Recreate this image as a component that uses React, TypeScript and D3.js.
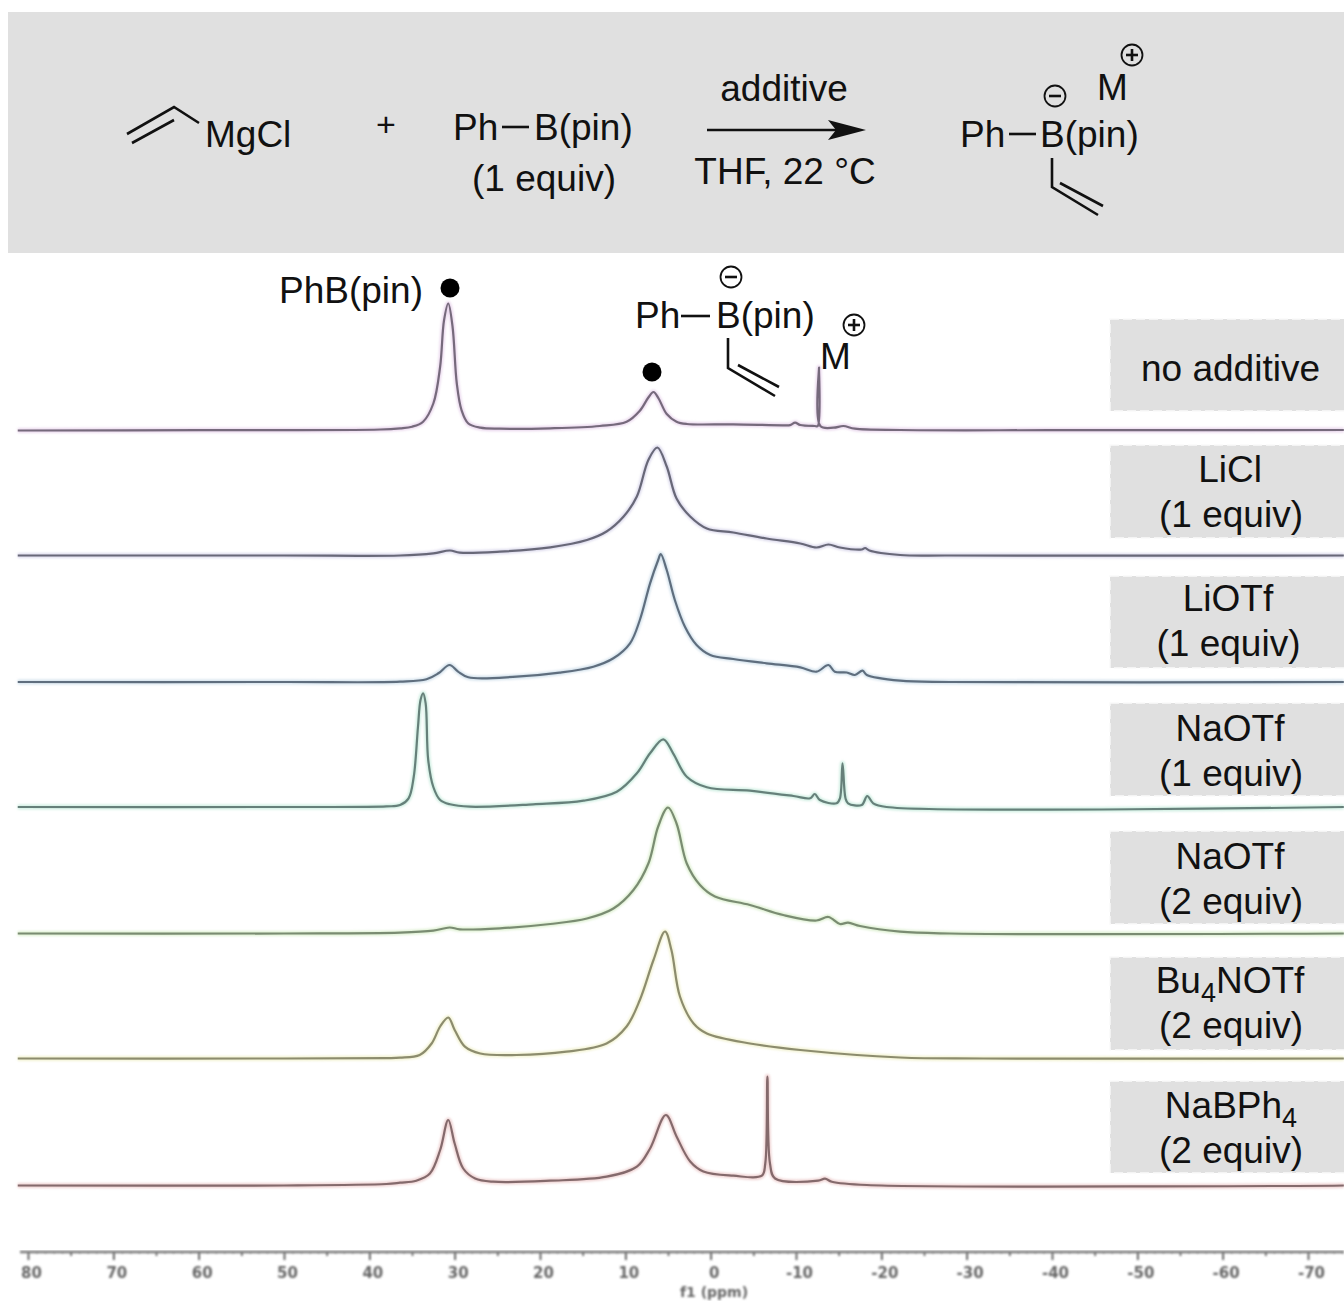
import { useEffect, useRef } from 'react';
import * as d3 from 'd3';

type Pt = [number, number];

// [ppm, intensity]
const noAdditive: Pt[] = [[81.2, 0], [60, 0.3], [38.7, 1], [36.4, 2.2], [35, 3.8], [33.7, 8.8], [32.5, 27], [31.7, 64], [31.25, 110], [30.75, 127], [30.25, 104], [29.75, 47], [29.2, 20.5], [28.4, 7], [27, 2.8], [24.7, 1.8], [18.8, 2.2], [13, 4.5], [9.85, 8.8], [8.3, 19.8], [7.3, 33], [6.7, 38.5], [6.1, 32], [5.15, 16.5], [4, 8.8], [2.8, 6.5], [-2.65, 6.2], [-8.5, 5.2], [-9.3, 5.4], [-9.9, 7.8], [-10.5, 5.5], [-12.2, 4.5], [-12.55, 4.5], [-12.7, 63], [-12.85, 4.5], [-14.4, 2.8], [-15.55, 4.5], [-16.9, 1.8], [-22.2, 0.5], [-40, 0.3], [-74.2, 0.5]];
const liCl: Pt[] = [[81.2, 0], [50, 0], [36.4, 0], [32.5, 2.2], [30.55, 5], [29.4, 2.8], [24.7, 3.8], [18.8, 8.2], [14.5, 15.5], [12.2, 24], [10.2, 39], [8.65, 59], [7.3, 95.5], [6.25, 108], [5.15, 89], [4, 57], [2.4, 39], [0.45, 27], [-2.65, 23], [-6.55, 17], [-10.5, 12], [-12.4, 8], [-13.8, 11], [-15.15, 8], [-17.7, 6], [-18.1, 7.5], [-18.6, 5], [-22.2, 0.5], [-28, 0], [-74.2, 0]];
const liOTf: Pt[] = [[81.2, 0], [50, 0], [36.4, 0.3], [33.3, 2.7], [31.9, 8.7], [30.6, 17], [29.6, 10.3], [28.4, 4.7], [22.75, 5.3], [17.7, 9.3], [13.75, 15.3], [11.4, 23.7], [9.45, 38.7], [8.3, 62], [7.1, 98.7], [6.15, 122], [5.85, 128], [5.15, 112], [4.2, 82], [3, 55], [1.65, 37], [0.05, 27], [-2.65, 23], [-6.55, 18.7], [-10.5, 14.7], [-12.4, 10.3], [-13.8, 17], [-14.55, 10.3], [-15.95, 9.5], [-16.9, 7], [-17.8, 11.3], [-18.3, 7], [-22.2, 1.3], [-28, 0], [-74.2, 0]];
const naOTf1: Pt[] = [[81.2, 0], [50, 0], [38, 0.6], [36.4, 2], [35.4, 8.7], [34.8, 30], [34.3, 80], [34, 107], [33.7, 113.7], [33.4, 103.7], [33.1, 47], [32.5, 20], [31.7, 7], [30.55, 2.7], [28.2, 0.3], [20.8, 2.7], [14.9, 6.3], [11, 15.3], [8.65, 33.7], [7.1, 53.7], [5.55, 67.7], [4.4, 53.7], [2.8, 30.3], [0.45, 19.7], [-4.6, 16.3], [-9.7, 11], [-11.65, 8.7], [-12.2, 13], [-12.8, 7], [-14.75, 3.7], [-15.15, 8.7], [-15.45, 43.7], [-15.8, 8.7], [-16.1, 3.7], [-17.7, 2], [-18.35, 11], [-19.05, 3.7], [-20.6, 0], [-74.2, 0]];
const naOTf2: Pt[] = [[81.2, 0], [50, 0], [36.4, 0.8], [32.5, 2.8], [30.6, 6], [29.4, 4.2], [24.7, 5.2], [18.8, 9.5], [14.5, 15], [11.4, 25], [9.05, 43.5], [7.3, 70], [6.15, 107], [5, 126], [4, 110], [2.8, 70], [1.25, 48.5], [-0.5, 37], [-4.6, 28.5], [-8.5, 18.5], [-12.4, 13], [-13.8, 16.5], [-15.15, 9.5], [-16.1, 10.8], [-17.5, 7.5], [-22.2, 1.8], [-28, 0], [-74.2, 0]];
const bu4NOTf: Pt[] = [[81.2, 0], [50, 0], [38, 0.4], [36.4, 0.8], [34.1, 3.5], [32.7, 15], [31.7, 32], [30.75, 41], [30, 28.5], [28.8, 11.8], [27, 5], [22.75, 3.5], [16.9, 6.8], [12.2, 15], [9.85, 32], [8.3, 58.5], [6.7, 98.5], [5.35, 127], [4.6, 108.5], [3.6, 62], [2, 35], [0.45, 25], [-4.6, 15], [-10.5, 8.5], [-22.2, 1], [-32, 0], [-74.2, 0]];
const naBPh4: Pt[] = [[81.2, 0], [50, 0], [38, 1.5], [36.4, 2.8], [34.5, 4.8], [32.9, 12], [31.7, 35.5], [30.75, 65.5], [30, 42], [29, 17], [27.6, 7], [25.5, 3.8], [18.8, 4.8], [12.2, 8.8], [8.65, 18.8], [7.1, 37], [5.25, 70.5], [4, 49], [2.4, 24], [0.85, 14], [-2.65, 9.8], [-6, 9.8], [-6.4, 22], [-6.65, 109], [-6.95, 22], [-7.55, 7], [-12.6, 4.8], [-13.4, 6.8], [-14.2, 3.8], [-18.3, 0.5], [-74.2, 0]];

const spectra = [noAdditive, liCl, liOTf, naOTf1, naOTf2, bu4NOTf, naBPh4];
const baselines = [430.5, 555.5, 682, 807, 933.5, 1058.5, 1185.5];
const coreColors = ['#766a7c', '#686878', '#5f6e7e', '#66807a', '#7a8c72', '#8c8c6e', '#846a6c'];
const haloColors = ['#d8b4de', '#bcb8dc', '#acc8dc', '#a4e0c8', '#c0e4a8', '#e8e8a8', '#e0a8a8'];

const majorTicks = d3.range(-70, 81, 10);
const midTicks = d3.range(-65, 76, 10);
const minorTicks = d3.range(-74, 81, 1);

const font = '"Liberation Sans", Arial, sans-serif';
const textSize = 37;

const x = d3.scaleLinear().domain([80, -70]).range([28, 1308]);

const line = d3.line<Pt>()
  .x(d => x(d[0]))
  .curve(d3.curveCatmullRom.alpha(0.5));

const Charge = ({ cx, cy, plus }: { cx: number; cy: number; plus?: boolean }) => (
  <g stroke="#111" fill="none">
    <circle cx={cx} cy={cy} r={10.5} strokeWidth={1.8} />
    <line x1={cx - 6} x2={cx + 6} y1={cy} y2={cy} strokeWidth={2.6} />
    {plus && <line x1={cx} x2={cx} y1={cy - 6} y2={cy + 6} strokeWidth={2.6} />}
  </g>
);

const Bonds = ({ d }: { d: string }) => <path d={d} fill="none" stroke="#111" strokeWidth={2.6} />;

const Label = ({ cx, y, children }: { cx: number; y: number; children: any }) => (
  <text x={cx} y={y} textAnchor="middle" fontSize={textSize}>{children}</text>
);

const boxes = [
  [319, 411], [445, 538], [576, 668], [703, 796], [831, 924], [957, 1050], [1081, 1173],
];

const App = () => {
  const axisRef = useRef<SVGGElement>(null);

  useEffect(() => {
    const g = d3.select(axisRef.current);
    g.selectAll('*').remove();

    const minor = d3.axisBottom(x).tickValues(minorTicks).tickSize(2).tickFormat(() => '');
    const mid = d3.axisBottom(x).tickValues(midTicks).tickSize(4).tickFormat(() => '');
    const major = d3.axisBottom(x).tickValues(majorTicks).tickSize(8).tickPadding(7)
      .tickFormat(d => String(d));

    g.append('g').call(minor).call(s => s.select('.domain').remove()).call(s => s.selectAll('text').remove())
      .selectAll('line').attr('stroke', '#888').attr('stroke-width', 1);
    g.append('g').call(mid).call(s => s.select('.domain').remove()).call(s => s.selectAll('text').remove())
      .selectAll('line').attr('stroke', '#555').attr('stroke-width', 1.6);
    const m = g.append('g').call(major);
    m.select('.domain').remove();
    m.selectAll('line').attr('stroke', '#444').attr('stroke-width', 1.6);
    m.selectAll('text')
      .attr('font-family', '"DejaVu Sans", sans-serif')
      .attr('font-size', 15)
      .attr('font-weight', 'bold')
      .attr('fill', '#666')
      .attr('dx', 3);
    g.append('line')
      .attr('x1', 20).attr('x2', 1344).attr('y1', 0).attr('y2', 0)
      .attr('stroke', '#777').attr('stroke-width', 2.6);
  }, []);

  return (
    <svg width={1344} height={1302} viewBox="0 0 1344 1302"
      style={{ position: 'absolute', left: 0, top: 0, display: 'block', background: '#fff' }}
      fontFamily={font} fill="#111">
      <defs>
        <filter id="soft" x="-5%" y="-5%" width="110%" height="110%">
          <feGaussianBlur stdDeviation="0.8" />
        </filter>
      </defs>

      {/* scheme banner */}
      <rect x={8} y={12} width={1336} height={241} fill="#e0e0e0" />
      <Bonds d="M127 134L174 107L199 123M132 143L174 120" />
      <text x={205} y={147} fontSize={textSize}>MgCl</text>
      <text x={386} y={136} fontSize={34} textAnchor="middle">+</text>
      <text x={453} y={140} fontSize={textSize}>Ph</text>
      <Bonds d="M502 127H529" />
      <text x={534} y={140} fontSize={textSize}>B(pin)</text>
      <Label cx={544} y={191}>(1 equiv)</Label>
      <Label cx={784} y={101}>additive</Label>
      <path d="M707 130H840" stroke="#111" strokeWidth={2.6} />
      <path d="M866 130L828 120L836 130L828 140Z" fill="#111" />
      <Label cx={785} y={184}>THF, 22 °C</Label>
      <text x={960} y={147} fontSize={textSize}>Ph</text>
      <Bonds d="M1009 134H1036" />
      <text x={1040} y={147} fontSize={textSize}>B(pin)</text>
      <Charge cx={1055} cy={96} />
      <text x={1097} y={100} fontSize={textSize}>M</text>
      <Charge cx={1132} cy={55} plus />
      <Bonds d="M1052 158V187L1098 215M1060 183L1103 206" />

      {/* condition labels */}
      {boxes.map(([a, b], i) => (
        <rect key={i} x={1110} y={a} width={240} height={b - a} fill="#e0e0e0"
          stroke="#fafafa" strokeWidth={1.4} strokeDasharray="9 4" />
      ))}
      <Label cx={1230.5} y={381}>no additive</Label>
      <Label cx={1230} y={482}>LiCl</Label>
      <Label cx={1231} y={527}>(1 equiv)</Label>
      <Label cx={1228} y={611}>LiOTf</Label>
      <Label cx={1228.5} y={656}>(1 equiv)</Label>
      <Label cx={1230} y={741}>NaOTf</Label>
      <Label cx={1231} y={786}>(1 equiv)</Label>
      <Label cx={1230} y={869}>NaOTf</Label>
      <Label cx={1231} y={914}>(2 equiv)</Label>
      <Label cx={1230} y={993}>Bu<tspan fontSize={27} dy={9}>4</tspan><tspan dy={-9}>NOTf</tspan></Label>
      <Label cx={1231} y={1038}>(2 equiv)</Label>
      <Label cx={1231} y={1118}>NaBPh<tspan fontSize={27} dy={9}>4</tspan></Label>
      <Label cx={1231} y={1163}>(2 equiv)</Label>

      {/* spectra */}
      {spectra.map((pts, i) => {
        const y = d3.scaleLinear().domain([0, 130]).range([baselines[i], baselines[i] - 130]);
        const d = line.y(p => y(p[1]))(pts) ?? '';
        return (
          <g key={i} fill="none" strokeLinejoin="round">
            <path d={d} stroke={haloColors[i]} strokeWidth={5} strokeOpacity={0.5} filter="url(#soft)" />
            <path d={d} stroke={coreColors[i]} strokeWidth={2.2} />
          </g>
        );
      })}

      {/* peak annotations */}
      <text x={279} y={303} fontSize={textSize}>PhB(pin)</text>
      <circle cx={450} cy={288} r={9.5} fill="#000" />
      <circle cx={652} cy={372} r={9.5} fill="#000" />
      <Charge cx={731} cy={277} />
      <text x={635} y={328} fontSize={textSize}>Ph</text>
      <Bonds d="M681 316H710" />
      <text x={716} y={328} fontSize={textSize}>B(pin)</text>
      <Bonds d="M728 338V368L775 396M738 365L779 387" />
      <Charge cx={854} cy={325} plus />
      <text x={820} y={369} fontSize={textSize}>M</text>

      {/* f1 axis */}
      <g ref={axisRef} transform="translate(0,1252)" filter="url(#soft)" />
      <text x={714} y={1297} textAnchor="middle" fontSize={14} fontWeight="bold" fill="#666"
        fontFamily='"DejaVu Sans", sans-serif' filter="url(#soft)">f1 (ppm)</text>
    </svg>
  );
};

export default App;
